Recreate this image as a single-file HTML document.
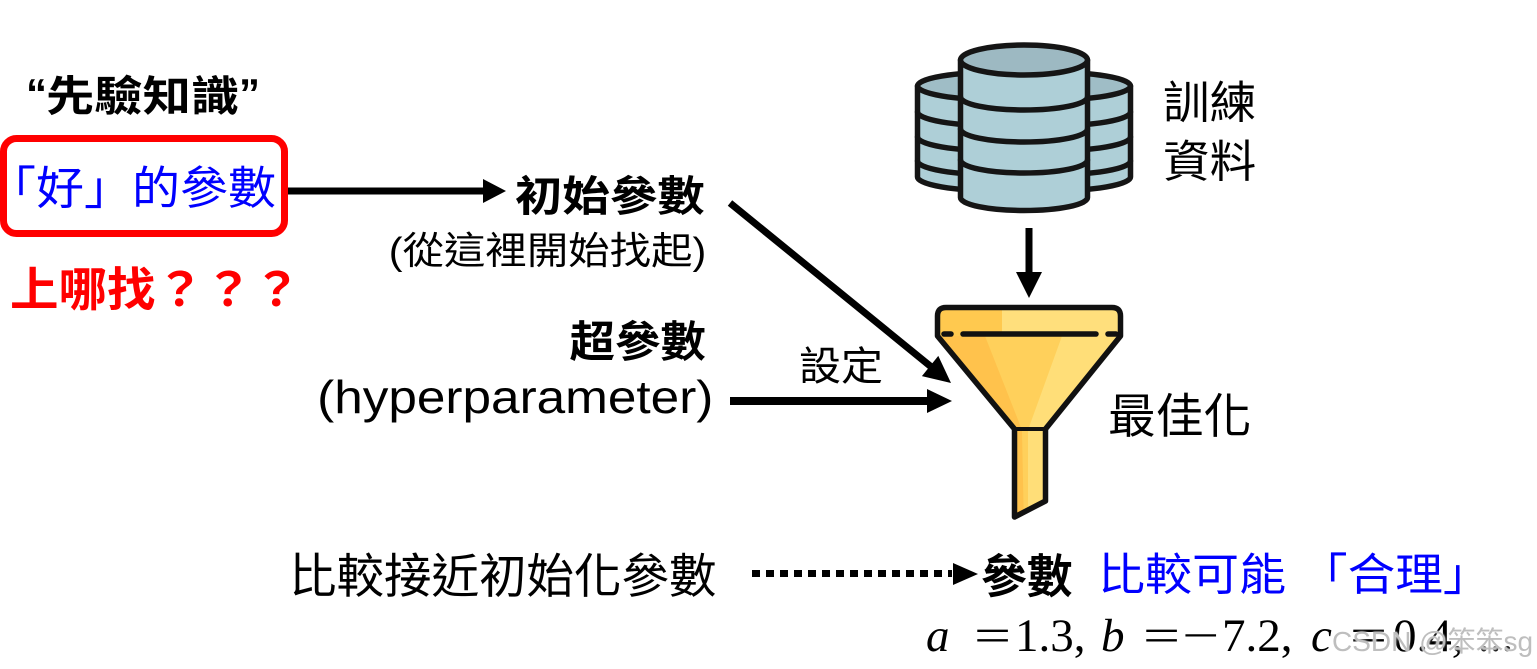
<!DOCTYPE html>
<html><head><meta charset="utf-8">
<style>
html,body{margin:0;padding:0;background:#fff;}
body{width:1537px;height:669px;position:relative;overflow:hidden;}
.t{position:absolute;white-space:nowrap;line-height:1;font-family:"Liberation Sans","Noto Sans CJK TC",sans-serif;color:#000;}
.b{font-weight:700;}
.L{transform-origin:0 0;}
.R{transform-origin:100% 0;}
.m{position:absolute;white-space:nowrap;line-height:1;font-family:"Liberation Serif","DejaVu Serif",serif;font-size:47px;top:612.6px;color:#000;transform-origin:0 0;}
svg{position:absolute;left:0;top:0;}
</style></head><body>
<svg width="1537" height="669" viewBox="0 0 1537 669">
  <defs>
    <clipPath id="fc"><path d="M937.5 336 L937.5 316 Q937.5 307.5 946 307.5 L1112 307.5 Q1120.5 307.5 1120.5 316 L1120.5 336 L1045.5 429 L1045.5 501 L1014.5 517 L1014.5 429 Z"/></clipPath>
  </defs>

  <!-- red box -->
  <rect x="3.5" y="138.5" width="281" height="95" rx="13" fill="none" stroke="#FF0000" stroke-width="7"/>

  <!-- arrow 1 -->
  <line x1="288" y1="191" x2="486" y2="191" stroke="#000" stroke-width="7"/>
  <polygon points="483,179 483,203 506,191" fill="#000"/>

  <!-- diagonal arrow -->
  <line x1="730" y1="203" x2="932" y2="367.5" stroke="#000" stroke-width="7"/>
  <polygon points="938.3,355.9 921.9,376.1 951,383" fill="#000"/>

  <!-- hyperparameter arrow -->
  <line x1="730" y1="401" x2="930" y2="401" stroke="#000" stroke-width="8"/>
  <polygon points="927,389 927,413 952,401" fill="#000"/>

  <!-- dotted arrow -->
  <line x1="752" y1="573.5" x2="952" y2="573.5" stroke="#000" stroke-width="7" stroke-dasharray="8 6"/>
  <polygon points="953,563 953,585 978,574" fill="#000"/>

  <!-- down arrow -->
  <line x1="1029" y1="228" x2="1029" y2="276" stroke="#000" stroke-width="7"/>
  <polygon points="1016,272 1042,272 1029,298" fill="#000"/>

  <!-- database -->
  <g stroke="#151515" stroke-width="5.5" fill="#AECFD7" stroke-linecap="round">
    <path d="M917.5 86 V177 A82.5 14 0 0 0 1082.5 177 V86"/>
    <ellipse cx="1000" cy="86" rx="82.5" ry="14" fill="#9FBDC6"/>
    <path d="M917.5 112 A82.5 14 0 0 0 1082.5 112 M917.5 137 A82.5 14 0 0 0 1082.5 137 M917.5 161 A82.5 14 0 0 0 1082.5 161" fill="none"/>

    <path d="M965.5 86 V177 A82.5 14 0 0 0 1130.5 177 V86"/>
    <ellipse cx="1048" cy="86" rx="82.5" ry="14" fill="#9FBDC6"/>
    <path d="M965.5 112 A82.5 14 0 0 0 1130.5 112 M965.5 137 A82.5 14 0 0 0 1130.5 137 M965.5 161 A82.5 14 0 0 0 1130.5 161" fill="none"/>

    <path d="M960.5 60 V197.5 A63.5 13 0 0 0 1087.5 197.5 V60"/>
    <ellipse cx="1024" cy="60" rx="63.5" ry="15" fill="#9DB9C2"/>
    <path d="M960.5 97 A63.5 13 0 0 0 1087.5 97 M960.5 129 A63.5 13 0 0 0 1087.5 129 M960.5 160 A63.5 13 0 0 0 1087.5 160" fill="none"/>
  </g>

  <!-- funnel -->
  <g clip-path="url(#fc)">
    <rect x="930" y="300" width="200" height="230" fill="#FFD05B"/>
    <rect x="930" y="300" width="72" height="36" fill="#FFC94F"/>
    <rect x="1002" y="300" width="130" height="36" fill="#FFDF7C"/>
    <polygon points="930,336 985,336 1022,430 1024,530 930,530" fill="#FFC24C"/>
    <polygon points="1062,336 1130,336 1130,530 1028,530 1028,430" fill="#FFDE78"/>
  </g>
  <path d="M937.5 336 L937.5 316 Q937.5 307.5 946 307.5 L1112 307.5 Q1120.5 307.5 1120.5 316 L1120.5 336 L1045.5 429 L1045.5 501 L1014.5 517 L1014.5 429 Z" fill="none" stroke="#111" stroke-width="5.5" stroke-linejoin="round"/>
  <path d="M944 334 H951 M963 334 H1096 M1108 334 H1116" stroke="#111" stroke-width="5.5" stroke-linecap="round"/>
  <line x1="1014.5" y1="429" x2="1045.5" y2="429" stroke="#111" stroke-width="4"/>
</svg>

<!-- left column -->
<div class="t b L" style="left:26px;top:73px;font-size:42px;">“</div>
<div class="t b L" style="left:45.6px;top:76.3px;font-size:42px;transform:scaleX(1.15)">先驗知識</div>
<div class="t b L" style="left:239px;top:73px;font-size:42px;">”</div>

<div class="t L" style="left:-12.4px;top:166.2px;font-size:45.5px;color:#0000FF;transform:scaleX(1.055)">「好」的參數</div>

<div class="t b L" style="left:10px;top:267.2px;font-size:46.5px;color:#FF0000;transform:scaleX(1.043)">上哪找？？？</div>

<!-- middle column -->
<div class="t b R" style="right:832px;top:176.3px;font-size:42.2px;transform:scaleX(1.125)">初始參數</div>
<div class="t R" style="right:831px;top:233.4px;font-size:38px;transform:scaleX(1.09)">(從這裡開始找起)</div>
<div class="t b R" style="right:831px;top:322.3px;font-size:43.3px;transform:scaleX(1.05)">超參數</div>
<div class="t R" style="right:824px;top:374.1px;font-size:46px;transform:scaleX(1.115)">(hyperparameter)</div>

<div class="t L" style="left:799px;top:347.3px;font-size:40px;transform:scaleX(1.05)">設定</div>

<!-- right column -->
<div class="t L" style="left:1163px;top:82.3px;font-size:44.4px;transform:scaleX(1.05)">訓練</div>
<div class="t L" style="left:1163px;top:141.3px;font-size:44.4px;transform:scaleX(1.05)">資料</div>
<div class="t L" style="left:1108px;top:394.2px;font-size:47.8px;">最佳化</div>

<!-- bottom row -->
<div class="t L" style="left:289px;top:554.2px;font-size:47.5px;">比較接近初始化參數</div>
<div class="t b L" style="left:981px;top:554.2px;font-size:46.7px;transform:scaleX(0.98)">參數</div>
<div class="t L" style="left:1097.7px;top:554.3px;font-size:44.5px;color:#0000FF;transform:scaleX(1.056)">比較可能</div>
<div class="t L" style="left:1300px;top:554.3px;font-size:44.5px;color:#0000FF;transform:scaleX(1.07)">「合理」</div>

<!-- math -->
<div class="m" style="left:926px;"><i>a</i></div>
<div class="m" style="left:974px;transform:scaleX(1.4)">=</div>
<div class="m" style="left:1015px;">1.3,</div>
<div class="m" style="left:1101px;"><i>b</i></div>
<div class="m" style="left:1143px;transform:scaleX(1.4)">=</div>
<div class="m" style="left:1182px;transform:scaleX(1.4)">−</div>
<div class="m" style="left:1222px;">7.2,</div>
<div class="m" style="left:1311px;"><i>c</i></div>
<div class="m" style="left:1350px;transform:scaleX(1.4)">=</div>
<div class="m" style="left:1393px;">0.4,</div>
<div class="m" style="left:1478px;">...</div>

<!-- watermark -->
<div class="t" style="left:1332px;top:628.3px;font-size:28px;color:rgba(185,185,185,0.92);text-shadow:0 0 1px #fff,0 0 2px #fff;">CSDN @笨笨sg</div>
</body></html>
